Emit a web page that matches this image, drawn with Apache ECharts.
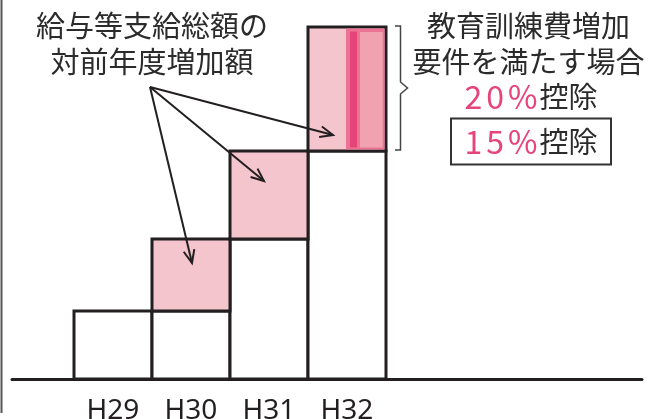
<!DOCTYPE html>
<html>
<head>
<meta charset="utf-8">
<script src="https://cdn.jsdelivr.net/npm/echarts@6/dist/echarts.min.js"></script>
<style>html,body{margin:0;padding:0;background:#fff}#c{width:654px;height:419px}</style>
</head>
<body>
<div id="c"></div>
<script>
// ---- data ----
const categories = ['H29', 'H30', 'H31', 'H32'];
const baseValues = [68, 68, 140, 228];          // 前年度までの給与等支給総額（白）
const increaseValues = [null, 72, 88, 124];     // 対前年度増加額（ピンク）
const trainingCategory = 3;                      // 教育訓練費増加要件の帯（H32）
const leftTitle = ['給与等支給総額の', '対前年度増加額'];
const rightTitle = ['教育訓練費増加', '要件を満たす場合'];
const rate20 = '20%';
const rate15 = '15%';
const deductWord = '控除';

const INK = '#231f20';
const PINK = '#f5c5ce';
const MAGENTA = '#e6457a';
const FONT = '"Noto Sans CJK JP", "Noto Sans", sans-serif';

// stacked segments built from the arrays: [category index, from, to, kind]
const segments = [];
categories.forEach(function (c, i) {
  segments.push([i, 0, baseValues[i], 0]);
  if (increaseValues[i] != null) segments.push([i, baseValues[i], baseValues[i] + increaseValues[i], 1]);
});

const chart = echarts.init(document.getElementById('c'), null, {renderer: 'canvas'});

function arrow(from, to) {
  const dx = to[0] - from[0], dy = to[1] - from[1];
  const ang = Math.atan2(dy, dx);
  const L = 14, a = 0.4;
  const p1 = [to[0] - L * Math.cos(ang - a), to[1] - L * Math.sin(ang - a)];
  const p2 = [to[0] - L * Math.cos(ang + a), to[1] - L * Math.sin(ang + a)];
  return [
    {type: 'line', z: 100, shape: {x1: from[0], y1: from[1], x2: to[0], y2: to[1]},
      style: {stroke: INK, lineWidth: 2}},
    {type: 'polyline', z: 100, shape: {points: [p1, to, p2]},
      style: {stroke: INK, lineWidth: 2, fill: null}}
  ];
}

function rateText(rate) {
  return rate.split('').map(function (ch) { return '{p|' + ch + '}'; }).join('') + '{k|' + deductWord + '}';
}
const rateRich = {
  p: {fontSize: 32, fontFamily: FONT, fill: MAGENTA, padding: [0, 2, 0, 2]},
  k: {fontSize: 29, fontFamily: FONT, fill: '#2b2b2b'}
};

const origin = [150, 87];
const graphics = [].concat(
  [{type: 'line', shape: {x1: 1.5, y1: 0, x2: 1.5, y2: 413}, style: {stroke: '#555', lineWidth: 2}}],
  arrow(origin, [192, 263]),
  arrow(origin, [264, 181]),
  arrow(origin, [333, 135]),
  [
    {type: 'text', x: 152, y: 43.5, z: 100, style: {text: leftTitle.join('\n'), fontSize: 29, lineHeight: 36,
      fontFamily: FONT, fill: '#2b2b2b', align: 'center', verticalAlign: 'middle'}},
    {type: 'text', x: 528.5, y: 44, z: 100, style: {text: rightTitle.join('\n'), fontSize: 29, lineHeight: 36,
      fontFamily: FONT, fill: '#2b2b2b', align: 'center', verticalAlign: 'middle'}},
    {type: 'text', x: 530, y: 97, z: 100, style: {
      text: rateText(rate20), align: 'center', verticalAlign: 'middle', rich: rateRich}},
    {type: 'rect', z: 100, shape: {x: 451, y: 118.5, width: 160, height: 46},
      style: {stroke: '#333', lineWidth: 2, fill: '#fff'}},
    {type: 'text', x: 530, y: 141.5, z: 101, style: {
      text: rateText(rate15), align: 'center', verticalAlign: 'middle', rich: rateRich}},
    {type: 'polyline', z: 100, shape: {points: [[395, 26], [400.5, 26], [400.5, 82], [407.5, 88],
      [400.5, 94], [400.5, 150], [395, 150]]}, style: {stroke: '#444', lineWidth: 1.5, fill: null}}
  ]
);

const option = {
  animation: false,
  backgroundColor: '#fff',
  grid: [
    {left: 74, right: 268, top: 27, bottom: 40, outerBoundsMode: 'none', containLabel: false},
    {left: 12, right: 12, top: 27, bottom: 40, outerBoundsMode: 'none', containLabel: false}
  ],
  xAxis: [
    {type: 'category', gridIndex: 0, data: categories,
      axisLine: {show: false}, axisTick: {show: false},
      axisLabel: {fontSize: 28, color: INK, margin: 18, fontFamily: '"Noto Sans", sans-serif'}},
    {type: 'value', gridIndex: 1, min: 0, max: 1,
      axisLine: {show: true, onZero: false, lineStyle: {color: INK, width: 3}},
      axisTick: {show: false}, axisLabel: {show: false}, splitLine: {show: false}}
  ],
  yAxis: [
    {type: 'value', gridIndex: 0, min: 0, max: 352, show: false},
    {type: 'value', gridIndex: 1, min: 0, max: 1, show: false}
  ],
  series: [
    {type: 'custom', z: 3, data: segments, encode: {x: 0, y: [1, 2]},
      renderItem: function (params, api) {
        const topPt = api.coord([api.value(0), api.value(2)]);
        const botPt = api.coord([api.value(0), api.value(1)]);
        const bw = api.size([1, 0])[0];
        return {type: 'rect', z2: api.value(3),
          shape: {x: topPt[0] - bw / 2, y: topPt[1], width: bw, height: botPt[1] - topPt[1]},
          style: {fill: api.value(3) ? PINK : '#fff', stroke: INK, lineWidth: 3}};
      }},
    {type: 'custom', z: 4,
      data: [[trainingCategory, baseValues[trainingCategory], baseValues[trainingCategory] + increaseValues[trainingCategory]]],
      encode: {x: 0, y: [1, 2]},
      renderItem: function (params, api) {
        const topPt = api.coord([api.value(0), api.value(2)]);
        const botPt = api.coord([api.value(0), api.value(1)]);
        const bw = api.size([1, 0])[0];
        const c = topPt[0];
        const right = c + bw / 2;
        const top = topPt[1] + 1.5, bot = botPt[1] - 1.5;
        return {type: 'group', children: [
          {type: 'rect', shape: {x: c - 1, y: top, width: right - 1.5 - (c - 1), height: bot - top},
            style: {fill: '#ec7393'}},
          {type: 'rect', shape: {x: c + 3, y: top + 3, width: 7, height: bot - top - 5},
            style: {fill: MAGENTA}},
          {type: 'rect', shape: {x: c + 13, y: top + 3.5, width: right - 3.3 - (c + 13), height: bot - top - 5.5},
            style: {fill: '#f0a2b0'}}
        ]};
      }}
  ],
  graphic: graphics
};
chart.setOption(option);
</script>
</body>
</html>
